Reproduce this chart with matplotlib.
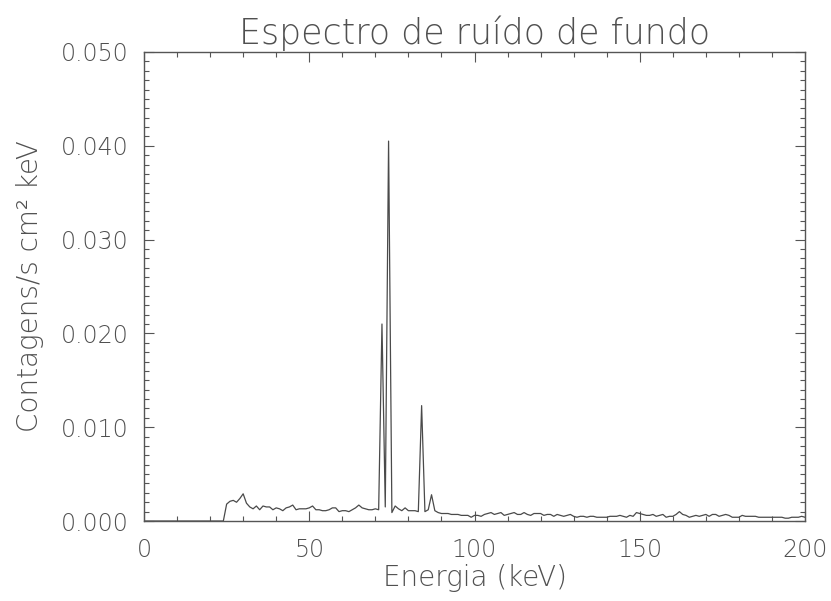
import numpy as np
import matplotlib
matplotlib.use('Agg')
import matplotlib.pyplot as plt
from matplotlib.ticker import MultipleLocator, FormatStrFormatter

# energy grid (keV), 1 keV bins
energia = np.arange(0, 201)

# counts/s cm^2 keV
contagens = [0.0] * 25 + [
    0.0018, 0.0021, 0.0022, 0.0020, 0.0024, 0.0029, 0.0019, 0.0015, 0.0013, 0.0016,   # 25-34
    0.0012, 0.0016, 0.0015, 0.0015, 0.0012, 0.0014, 0.0013, 0.0011, 0.0014, 0.0015,   # 35-44
    0.0017, 0.0012, 0.0013, 0.0013, 0.0013, 0.0014, 0.0016, 0.0012, 0.0012, 0.0011,   # 45-54
    0.0011, 0.0012, 0.0014, 0.0014, 0.0010, 0.0011, 0.0011, 0.0010, 0.0012, 0.0014,   # 55-64
    0.0017, 0.0014, 0.0013, 0.0012, 0.0012, 0.0013, 0.0012, 0.0210, 0.0015, 0.0405,   # 65-74
    0.0009, 0.0016, 0.0013, 0.0011, 0.0014, 0.0011, 0.0011, 0.0011, 0.0010, 0.0123,   # 75-84
    0.0010, 0.0012, 0.0028, 0.0011, 0.0009, 0.0008, 0.0008, 0.0008, 0.0007, 0.0007,   # 85-94
    0.0007, 0.0006, 0.0006, 0.0006, 0.0004, 0.0006, 0.0006, 0.0005, 0.0007, 0.0008,   # 95-104
    0.0009, 0.0007, 0.0008, 0.0009, 0.0006, 0.0007, 0.0008, 0.0009, 0.0007, 0.0007,   # 105-114
    0.0009, 0.0007, 0.0006, 0.0008, 0.0008, 0.0008, 0.0006, 0.0007, 0.0007, 0.0005,   # 115-124
    0.0007, 0.0006, 0.0005, 0.0006, 0.0007, 0.0005, 0.0004, 0.0005, 0.0005, 0.0004,   # 125-134
    0.0005, 0.0005, 0.0004, 0.0004, 0.0004, 0.0004, 0.0005, 0.0005, 0.0005, 0.0006,   # 135-144
    0.0005, 0.0004, 0.0006, 0.0005, 0.0009, 0.0008, 0.0007, 0.0006, 0.0006, 0.0007,   # 145-154
    0.0005, 0.0006, 0.0007, 0.0004, 0.0005, 0.0005, 0.0007, 0.0010, 0.0007, 0.0006,   # 155-164
    0.0004, 0.0005, 0.0006, 0.0005, 0.0006, 0.0007, 0.0005, 0.0007, 0.0007, 0.0005,   # 165-174
    0.0006, 0.0007, 0.0006, 0.0004, 0.0004, 0.0004, 0.0006, 0.0005, 0.0005, 0.0005,   # 175-184
    0.0005, 0.0004, 0.0004, 0.0004, 0.0004, 0.0004, 0.0004, 0.0004, 0.0004, 0.0003,   # 185-194
    0.0003, 0.0004, 0.0004, 0.0004, 0.0005, 0.0004,                                   # 195-200
]

titulo = 'Espectro de ruído de fundo'
xlabel = 'Energia (keV)'
ylabel = 'Contagens/s cm² keV'

txt = '#505050'
plt.rcParams['font.weight'] = 'light'

fig = plt.figure(figsize=(8.31, 6.01), dpi=100)
ax = fig.add_axes([0.1733, 0.1331, 0.7954, 0.7804])

ax.plot(energia, contagens, color='#4a4a4a', lw=0.9)

ax.set_xlim(0, 200)
ax.set_ylim(0, 0.05)
ax.xaxis.set_major_locator(MultipleLocator(50))
ax.xaxis.set_minor_locator(MultipleLocator(10))
ax.yaxis.set_major_locator(MultipleLocator(0.01))
ax.yaxis.set_minor_locator(MultipleLocator(0.001))
ax.yaxis.set_major_formatter(FormatStrFormatter('%.3f'))

ax.tick_params(which='both', direction='in', top=True, right=True,
               colors='#555555', labelcolor=txt, labelsize=17)
ax.tick_params(which='major', length=7, width=0.8)
ax.tick_params(which='minor', length=3.6, width=0.8)
ax.tick_params(axis='x', pad=12)
ax.tick_params(axis='y', pad=11)

for s in ax.spines.values():
    s.set_color('#555555')
    s.set_linewidth(1.0)

ax.set_title(titulo, fontsize=25, color=txt, pad=6, fontweight='light')
ax.set_xlabel(xlabel, fontsize=20, color=txt, labelpad=2, fontweight='light')
ax.set_ylabel(ylabel, fontsize=20, color=txt, labelpad=12, fontweight='light')

plt.savefig('out.png', dpi=100)
